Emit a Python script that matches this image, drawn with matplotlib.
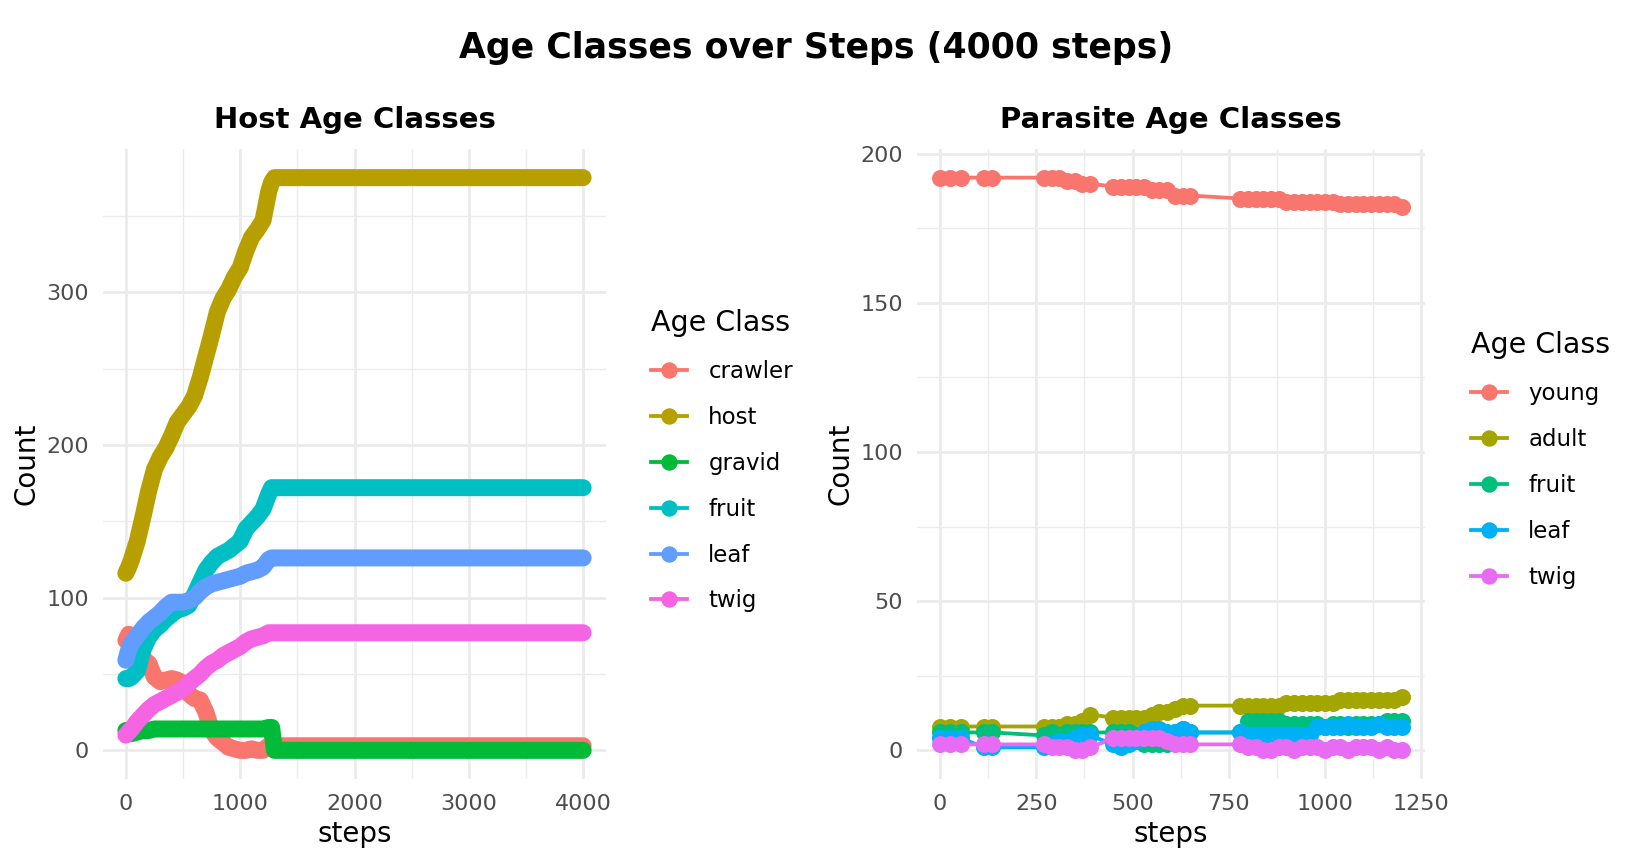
import matplotlib
matplotlib.use("Agg")
import matplotlib.pyplot as plt
from matplotlib.lines import Line2D
from matplotlib.ticker import MultipleLocator

# ---- host panel data ----
host_steps = [0, 25, 50, 100, 150, 200, 250, 300, 350, 400, 450, 500, 550, 600, 650,
              700, 750, 800, 850, 900, 950, 1000, 1050, 1100, 1150, 1200, 1250, 1275, 1300, 4000]
crawler = [72, 76, 75, 65, 60, 57, 48, 45, 46, 47, 46, 44, 37, 34, 33,
           25, 13, 8, 5, 2, 1, 0, 0, 1, 0, 0, 3, 3, 3, 3]
host = [116, 120, 125, 137, 153, 170, 184, 192, 198, 206, 215, 220, 225, 232, 244,
        258, 272, 287, 296, 302, 310, 316, 327, 336, 341, 347, 366, 372, 375, 375]
gravid = [13, 13, 11, 12, 13, 13, 14, 14, 14, 14, 14, 14, 14, 14, 14,
          14, 14, 14, 14, 14, 14, 14, 14, 14, 14, 14, 15, 15, 0, 0]
host_fruit = [47, 47, 48, 52, 66, 74, 79, 82, 86, 89, 92, 93, 95, 102, 110,
              118, 123, 127, 129, 131, 134, 137, 145, 149, 153, 158, 168, 172, 172, 172]
host_leaf = [59, 66, 70, 75, 80, 84, 87, 90, 94, 97, 97, 97, 98, 100, 104,
             107, 109, 110, 111, 112, 113, 114, 116, 117, 118, 120, 125, 126, 126, 126]
host_twig = [10, 12, 14, 19, 23, 27, 30, 32, 34, 36, 38, 40, 44, 47, 50,
             54, 57, 59, 62, 64, 66, 68, 71, 73, 74, 75, 77, 77, 77, 77]
host_labels = ['crawler', 'host', 'gravid', 'fruit', 'leaf', 'twig']
host_colors = ['#F8766D', '#B79F00', '#00BA38', '#00BFC4', '#619CFF', '#F564E3']

# ---- parasite panel data ----
par_steps = [0, 25, 55, 115, 135,
             270, 290, 310, 330, 350, 370, 390,
             450, 470, 490, 510, 530, 550, 570, 590, 610, 630, 650,
             780, 800, 820, 840, 860, 880, 900, 920, 940, 960, 980, 1000, 1020,
             1040, 1060, 1080, 1100, 1120, 1140, 1160, 1180, 1200]
young = [192, 192, 192, 192, 192,
         192, 192, 192, 191, 191, 190, 190,
         189, 189, 189, 189, 189, 188, 188, 188, 186, 186, 186,
         185, 185, 185, 185, 185, 185, 184, 184, 184, 184, 184, 184, 184,
         183, 183, 183, 183, 183, 183, 183, 183, 182]
adult = [8, 8, 8, 8, 8,
         8, 8, 8, 9, 9, 10, 12,
         11, 11, 11, 11, 11, 12, 13, 13, 14, 15, 15,
         15, 15, 15, 15, 15, 15, 16, 16, 16, 16, 16, 16, 16,
         17, 17, 17, 17, 17, 17, 17, 17, 18]
par_fruit = [6, 6, 6, 6, 6,
             5, 6, 5, 6, 6, 6, 6,
             6, 6, 6, 5, 2, 2, 2, 2, 6, 7, 6,
             6, 10, 10, 10, 10, 10, 9, 9, 9, 9, 9, 8, 9,
             9, 8, 9, 9, 9, 9, 10, 10, 10]
par_leaf = [4, 4, 4, 1, 1,
            1, 2, 3, 3, 4, 5, 5,
            2, 1, 2, 3, 6, 7, 7, 6, 6, 7, 6,
            6, 5, 5, 5, 5, 5, 5, 5, 5, 5, 8, 8, 8,
            8, 9, 8, 8, 8, 9, 8, 8, 8]
par_twig = [2, 2, 2, 2, 2,
            2, 1, 1, 1, 0, 0, 1,
            4, 4, 4, 4, 4, 4, 4, 3, 2, 2, 2,
            2, 1, 1, 0, 0, 1, 1, 0, 1, 1, 1, 0, 1,
            1, 0, 1, 1, 1, 0, 1, 0, 0]
par_labels = ['young', 'adult', 'fruit', 'leaf', 'twig']
par_colors = ['#F8766D', '#A3A500', '#00BF7D', '#00B0F6', '#E76BF3']

DPI = 100
PX = 72 / DPI          # points per pixel
POINT_D = 17 * PX      # marker diameter
LINE_W = 3.8 * PX      # connecting line width
W, H = 1632, 865


def style_axes(ax, xmajor, ymajor):
    for s in ax.spines.values():
        s.set_visible(False)
    ax.xaxis.set_major_locator(MultipleLocator(xmajor))
    ax.xaxis.set_minor_locator(MultipleLocator(xmajor / 2))
    ax.yaxis.set_major_locator(MultipleLocator(ymajor))
    ax.yaxis.set_minor_locator(MultipleLocator(ymajor / 2))
    ax.grid(True, which='major', color='#EBEBEB', lw=2.7 * PX)
    ax.grid(True, which='minor', color='#EBEBEB', lw=1.4 * PX)
    ax.set_axisbelow(True)
    ax.tick_params(which='both', length=0, labelsize=16, labelcolor='#4D4D4D')
    ax.tick_params(axis='x', pad=11)
    ax.tick_params(axis='y', pad=10)
    ax.set_xlabel('steps', fontsize=20)
    ax.set_ylabel('Count', fontsize=20)
    ax.xaxis.set_label_coords(0.5, -0.065)
    ax.yaxis.set_label_coords(-0.124, 0.5)


def add_legend(ax, labels, colors, x, y):
    handles = [Line2D([0], [0], color=c, lw=LINE_W, marker='o', ms=15 * PX)
               for c in colors]
    ax.legend(handles, labels, title='Age Class', loc='upper left',
              bbox_to_anchor=(x / W, 1 - y / H), bbox_transform=fig.transFigure,
              frameon=False, fontsize=16.5, title_fontsize=20.5, alignment='left',
              borderpad=0, borderaxespad=0, handlelength=1.55, handletextpad=0.95,
              labelspacing=1.0)


fig = plt.figure(figsize=(W / DPI, H / DPI), dpi=DPI)
fig.suptitle('Age Classes over Steps (4000 steps)', fontsize=25, fontweight='bold',
             x=0.5, y=1 - 48 / H, va='center')

# host panel
ax1 = fig.add_axes([103 / W, 1 - 779 / H, 503 / W, 630 / H])
host_series = [crawler, host, gravid, host_fruit, host_leaf, host_twig]
for vals, c in zip(host_series, host_colors):
    ax1.plot(host_steps, vals, color=c, lw=LINE_W, zorder=2)
for vals, c in zip(host_series, host_colors):
    # dense per-step points drawn as a solid stroke of point width
    ax1.plot(host_steps, vals, color=c, lw=POINT_D, solid_capstyle='round',
             solid_joinstyle='round', zorder=3)
ax1.set_xlim(-200, 4200)
ax1.set_ylim(-18.75, 393.75)
style_axes(ax1, 1000, 100)
ax1.set_title('Host Age Classes', fontsize=21, fontweight='bold', pad=15)
add_legend(ax1, host_labels, host_colors, 651, 309)

# parasite panel
ax2 = fig.add_axes([917 / W, 1 - 779 / H, 508 / W, 630 / H])
par_series = [young, adult, par_fruit, par_leaf, par_twig]
for vals, c in zip(par_series, par_colors):
    ax2.plot(par_steps, vals, color=c, lw=LINE_W, zorder=2)
for vals, c in zip(par_series, par_colors):
    ax2.plot(par_steps, vals, 'o', color=c, ms=POINT_D, mew=0, zorder=3)
ax2.set_xlim(-60, 1260)
ax2.set_ylim(-9.6, 201.6)
style_axes(ax2, 250, 50)
ax2.set_title('Parasite Age Classes', fontsize=21, fontweight='bold', pad=15)
add_legend(ax2, par_labels, par_colors, 1471, 331)

fig.savefig('out.png', dpi=DPI)
